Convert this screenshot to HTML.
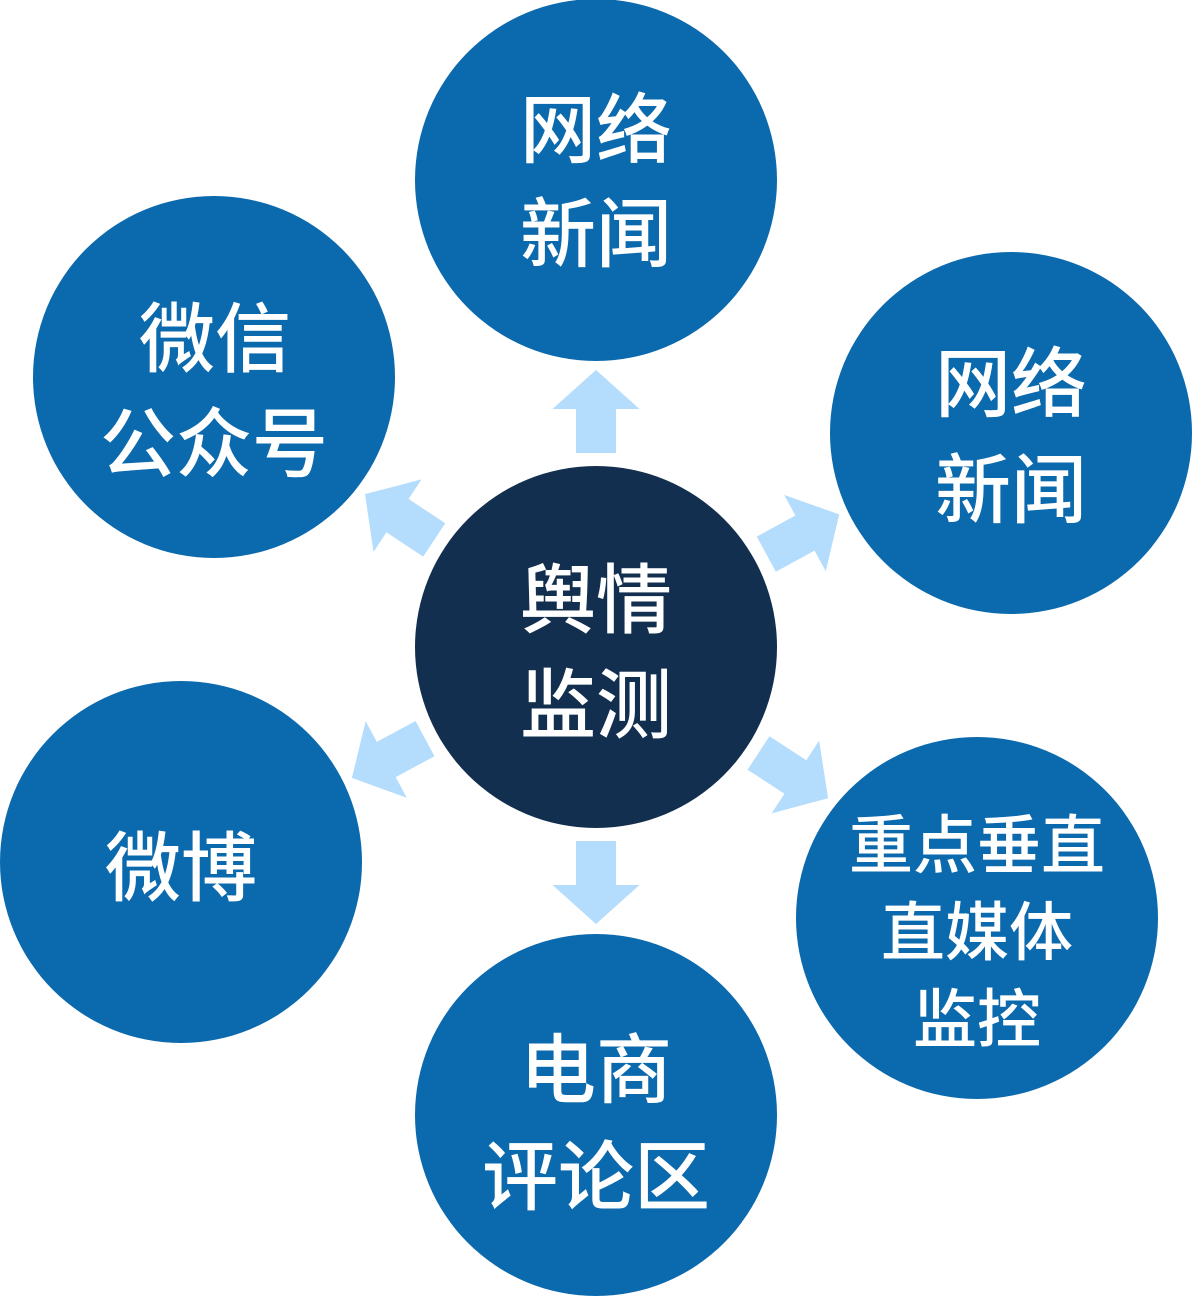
<!DOCTYPE html>
<html>
<head>
<meta charset="utf-8">
<style>
html,body{margin:0;padding:0;background:#fff;}
svg{display:block;}
text{font-family:"Liberation Sans","Noto Sans CJK SC",sans-serif;fill:#fff;text-anchor:middle;font-weight:500;}
</style>
</head>
<body>
<svg width="1192" height="1296" viewBox="0 0 1192 1296" xmlns="http://www.w3.org/2000/svg">
  <defs>
    <polygon id="arr" points="194,-20 238,-20 238,-43.5 277,0 238,43.5 238,20 194,20" fill="#b4dcfc"/>
  </defs>
  <!-- outer circles -->
  <circle cx="596" cy="180" r="181" fill="#0b69ad"/>
  <circle cx="1011" cy="433" r="181" fill="#0b69ad"/>
  <circle cx="214" cy="377" r="181" fill="#0b69ad"/>
  <circle cx="181" cy="862" r="181" fill="#0b69ad"/>
  <circle cx="596" cy="1115" r="181" fill="#0b69ad"/>
  <circle cx="977" cy="918" r="181" fill="#0b69ad"/>
  <!-- center -->
  <circle cx="596" cy="647" r="181" fill="#132f4f"/>
  <!-- arrows -->
  <g transform="translate(596,647)">
    <use href="#arr" transform="rotate(-90)"/>
    <use href="#arr" transform="rotate(-28.6)"/>
    <use href="#arr" transform="rotate(33.1)"/>
    <use href="#arr" transform="rotate(90)"/>
    <use href="#arr" transform="rotate(151.8)"/>
    <use href="#arr" transform="rotate(-146.5)"/>
  </g>
  <!-- texts (76px) -->
  <g font-size="76">
    <text x="596" y="157">网络</text>
    <text x="596" y="261">新闻</text>
    <text x="1011" y="411">网络</text>
    <text x="1011" y="517">新闻</text>
    <text x="215" y="366">微信</text>
    <text x="214" y="471">公众号</text>
    <text x="181" y="895">微博</text>
    <text x="596" y="1097">电商</text>
    <text x="596" y="1204">评论区</text>
    <text x="596" y="627">舆情</text>
    <text x="596" y="732">监测</text>
  </g>
  <g font-size="64">
    <text x="977" y="868">重点垂直</text>
    <text x="977" y="955">直媒体</text>
    <text x="977" y="1042">监控</text>
  </g>
</svg>
</body>
</html>
